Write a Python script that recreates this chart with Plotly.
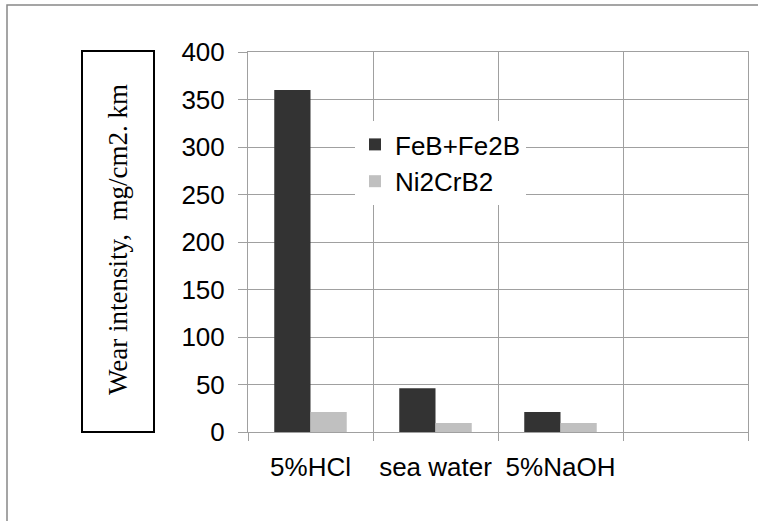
import plotly.graph_objects as go

categories = ["5%HCl", "sea water", "5%NaOH", " "]
feb_fe2b = [360, 46, 21, None]
ni2crb2 = [21, 9.5, 9.5, None]
series_names = ["FeB+Fe2B", "Ni2CrB2"]
y_title = "Wear intensity,\u00a0 mg/cm2. km"

W, H = 758, 521
L, R, T, B = 248, 10, 52, 89
pw, ph = W - L - R, H - T - B

def px(x):
    return (x - L) / pw

def py(y):
    return (H - B - y) / ph

fig = go.Figure()
fig.add_trace(go.Bar(x=categories, y=feb_fe2b, name=series_names[0],
                     marker=dict(color="#333333", line=dict(width=0))))
fig.add_trace(go.Bar(x=categories, y=ni2crb2, name=series_names[1],
                     marker=dict(color="#c0c0c0", line=dict(width=0))))

grid = "#a0a0a0"
fig.update_layout(
    width=W, height=H,
    margin=dict(l=L, r=R, t=T, b=B),
    paper_bgcolor="white", plot_bgcolor="white",
    barmode="group", bargap=0.42, bargroupgap=0,
    font=dict(family="Liberation Sans, Arial, sans-serif", size=26, color="black"),
    legend=dict(x=px(355), y=py(121), xanchor="left", yanchor="top",
                bgcolor="white", borderwidth=0, font=dict(size=26),
                tracegroupgap=0),
    xaxis=dict(type="category", categoryorder="array", categoryarray=categories,
               range=[-0.5, 3.5], tickson="boundaries", ticks="outside",
               ticklen=8, tickcolor=grid, showgrid=True, gridcolor=grid,
               gridwidth=1, showline=True, linecolor=grid, mirror=True,
               ticklabelstandoff=12, tickfont=dict(size=26)),
    yaxis=dict(range=[0, 400], dtick=50, tick0=0, ticks="outside", ticklen=9,
               tickcolor=grid, showgrid=True, gridcolor=grid, gridwidth=1,
               zeroline=False, showline=True, linecolor=grid, mirror=True,
               ticklabelstandoff=8, tickfont=dict(size=26)),
    shapes=[
        dict(type="rect", xref="paper", yref="paper",
             x0=px(7), x1=px(775), y0=py(5), y1=py(540),
             line=dict(color="#888888", width=1.5), fillcolor="rgba(0,0,0,0)",
             layer="below"),
        dict(type="rect", xref="paper", yref="paper",
             x0=px(82), x1=px(154), y0=py(51), y1=py(432),
             line=dict(color="black", width=2), fillcolor="rgba(0,0,0,0)"),
    ],
    annotations=[
        dict(text=y_title, xref="paper", yref="paper", x=px(118), y=py(240),
             xanchor="center", yanchor="middle", textangle=-90, showarrow=False,
             font=dict(family="Liberation Serif, Times New Roman, serif", size=27,
                       color="black")),
    ],
)

fig.write_html("out.html")
